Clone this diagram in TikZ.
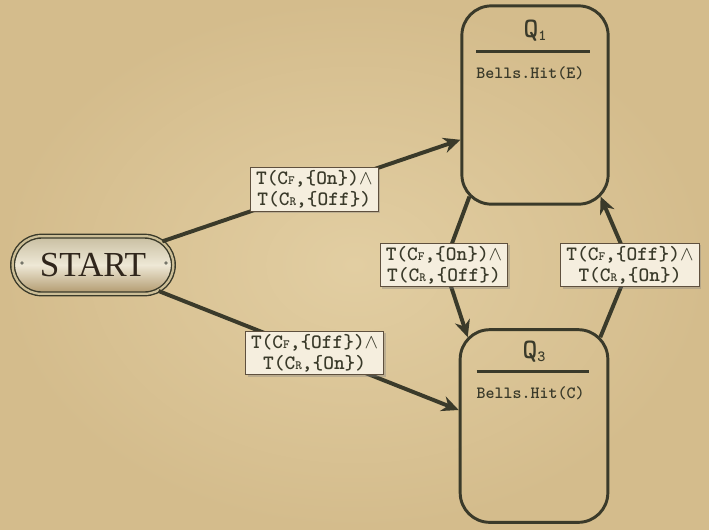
\documentclass[tikz,border=0pt]{standalone}
\usepackage{fontspec}
\setmainfont{Liberation Serif}
\usepackage{xcolor}
\usepackage{tikz}
\usetikzlibrary{positioning}
\usetikzlibrary{arrows.meta,shapes.misc,shadows}
\definecolor{parchment}{RGB}{226,206,162}
\definecolor{parchmentdark}{RGB}{212,188,140}
\definecolor{ink}{RGB}{58,58,42}
\definecolor{card}{RGB}{245,238,222}
\definecolor{cardline}{RGB}{95,80,62}
\definecolor{rim}{RGB}{204,190,150}
\definecolor{metaltop}{RGB}{200,190,160}
\definecolor{metalmid}{RGB}{238,232,214}
\definecolor{metalbottom}{RGB}{176,152,108}
\definecolor{engrave}{RGB}{48,38,28}
\newcommand{\csub}[1]{{\fontsize{9pt}{9pt}\selectfont #1}}
\newcommand{\qsub}[1]{\raisebox{-2pt}{\fontsize{11pt}{11pt}\selectfont #1}}
\newcommand{\andsym}{$\wedge$}
\tikzset{
	state/.style={
			draw=ink, line width=2.1pt, rounded corners=21pt
		},
	flow/.style={
			draw=ink, line width=2.8pt, -{Stealth[length=12pt,width=11pt]}
		},
	guard/.style={
			fill=card, draw=cardline, line width=0.6pt, align=center,
			inner xsep=4pt, inner ysep=2pt,
			font=\ttfamily\bfseries\fontsize{14.5pt}{15pt}\selectfont, text=ink,
			drop shadow={shadow xshift=1.5pt, shadow yshift=-1.5pt, opacity=.35}
		},
	plate/.style={
			rounded rectangle, draw=ink, line width=1pt,
			double=rim, double distance=1.6pt,
			top color=metaltop, bottom color=metalbottom, middle color=metalmid,
			minimum width=121pt, minimum height=41pt,
			font=\fontsize{25pt}{25pt}\selectfont, text=engrave
		},
	qname/.style={font=\ttfamily\bfseries\fontsize{20pt}{20pt}\selectfont, text=ink},
	action/.style={font=\ttfamily\bfseries\fontsize{12.2pt}{13pt}\selectfont, text=ink, anchor=west},
	rule/.style={draw=ink, line width=2.1pt}
}

\begin{document}
\begin{tikzpicture}[x=0.025cm, y=-0.025cm]

	\path[inner color=parchment, outer color=parchmentdark] (0,0) rectangle (709,529);
	\useasboundingbox (0,0) rectangle (709,529);

	\node[state, minimum width=104pt, minimum height=141pt] (qone) at (535,105) {};
	\node[state, minimum width=105pt, minimum height=137pt] (qthree) at (534,426) {};
	\node[plate] (start) at (93,265) {START};
	\fill[ink!70] (22,263) circle (1.3pt) (166,263) circle (1.3pt);

	\node[qname] (qonename) at ([yshift=-18.5pt]qone.north) {Q\qsub{1}};
	\draw[rule] ([shift={(16,47)}]qone.north west) -- ([shift={(-20,47)}]qone.north east);
	\node[action] (qoneaction) at ([shift={(11,69)}]qone.north west) {Bells.Hit(E)};

	\node[qname] (qthreename) at ([yshift=-17pt]qthree.north) {Q\qsub{3}};
	\draw[rule] ([shift={(18,43)}]qthree.north west) -- ([shift={(-20,43)}]qthree.north east);
	\node[action] (qthreeaction) at ([shift={(13,65)}]qthree.north west) {Bells.Hit(C)};

	\coordinate (bendL) at (444,265);
	\coordinate (bendR) at (630,265);

	\draw[flow] (start) -- node[guard, pos=0.51] {T(C\csub{F},\{On\})\andsym\\T(C\csub{R},\{Off\})} (qone.205);
	\draw[flow] (start) -- node[guard, pos=0.52] {T(C\csub{F},\{Off\})\andsym\\T(C\csub{R},\{On\})} (qthree.168);
	\draw[flow] ([shift={(9,-9)}]qone.south west) -- (bendL)
		node[guard] {T(C\csub{F},\{On\})\andsym\\T(C\csub{R},\{Off\})}
		-- ([shift={(9,9)}]qthree.north west);
	\draw[flow] ([shift={(-9,9)}]qthree.north east) -- (bendR)
		node[guard] {T(C\csub{F},\{Off\})\andsym\\T(C\csub{R},\{On\})}
		-- ([shift={(-9,-9)}]qone.south east);

\end{tikzpicture}
\end{document}
